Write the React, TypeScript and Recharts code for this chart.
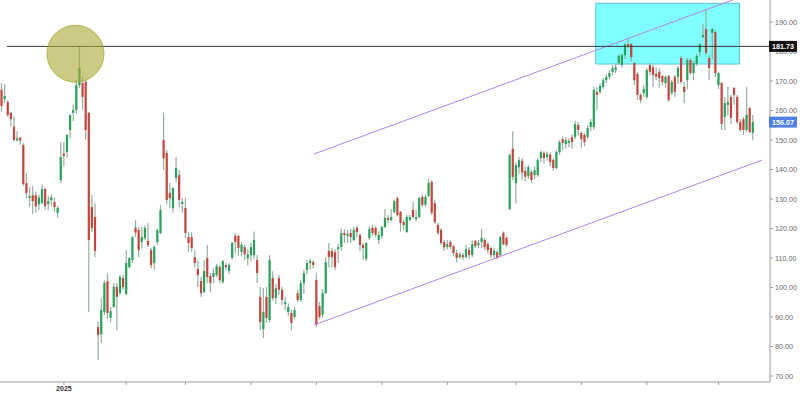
import React from 'react';
import { ComposedChart, Bar, XAxis, YAxis, ReferenceLine, ReferenceArea, ReferenceDot } from 'recharts';

// ---- data (daily OHLC) ----
const opens = [
  167.0, 163.9, 162.8, 159.2, 154.5, 150.0, 150.8, 148.3, 135.4, 130.3,
  131.3, 131.3, 128.2, 128.6, 133.4, 128.3, 129.6, 129.0, 125.3, 136.4,
  145.4, 145.9, 153.4, 159.2, 160.2, 168.6, 169.3, 169.7, 159.2, 127.3,
  123.9, 86.6, 84.2, 91.7, 102.2, 89.7, 93.4, 100.2, 98.1, 103.2,
  97.8, 106.9, 109.3, 120.3, 119.5, 115.4, 116.8, 115.8, 112.7, 108.3,
  115.4, 118.5, 150.0, 145.6, 132.0, 126.9, 137.1, 138.1, 128.3, 127.0,
  117.1, 117.1, 110.3, 106.3, 102.2, 98.5, 110.0, 103.9, 103.6, 104.2,
  106.9, 101.9, 107.6, 105.6, 110.0, 117.5, 117.5, 112.0, 113.7, 109.9,
  111.0, 111.0, 109.3, 96.8, 85.9, 96.8, 89.0, 103.2, 96.4, 103.2,
  99.2, 94.4, 91.7, 91.4, 90.0, 98.1, 95.8, 101.5, 105.9, 108.3,
  108.6, 102.5, 93.7, 90.7, 98.1, 112.4, 112.4, 112.0, 113.0, 113.7,
  118.5, 117.5, 118.5, 116.1, 120.2, 117.8, 114.4, 109.7, 116.8, 120.2,
  120.2, 116.1, 117.5, 120.5, 123.6, 122.9, 125.6, 130.3, 125.6, 122.2,
  118.8, 122.9, 126.3, 123.2, 123.9, 130.7, 128.0, 131.0, 135.8, 128.6,
  121.2, 119.5, 115.4, 113.7, 115.4, 114.0, 111.7, 110.3, 111.0, 110.3,
  112.7, 111.0, 115.8, 114.4, 115.4, 116.1, 114.7, 113.4, 111.0, 112.0,
  111.0, 118.5, 116.8, 126.6, 147.0, 135.4, 140.8, 142.9, 139.5, 137.8,
  139.2, 138.1, 138.1, 143.9, 145.6, 144.2, 145.0, 143.2, 140.5, 145.9,
  150.3, 148.6, 149.0, 151.0, 151.0, 155.1, 152.4, 151.7, 151.0, 154.4,
  154.4, 166.3, 166.3, 168.0, 170.3, 171.4, 173.1, 173.7, 176.1, 175.4,
  178.8, 182.5, 182.5, 176.1, 172.4, 165.3, 165.9, 164.6, 175.4, 174.7,
  172.4, 173.1, 171.7, 169.3, 171.7, 165.9, 171.4, 171.4, 177.8, 168.0,
  170.3, 177.1, 172.7, 175.8, 179.8, 184.9, 187.6, 177.8, 186.3, 186.6,
  168.6, 169.3, 157.8, 161.9, 164.6, 167.6, 164.6, 156.1, 157.1, 153.4,
  160.8, 152.4,
];
const highs = [
  169.3, 169.0, 163.5, 159.5, 158.0, 153.0, 151.0, 149.0, 138.8, 134.0,
  134.5, 132.5, 131.5, 134.9, 133.6, 131.0, 131.5, 130.5, 127.6, 149.3,
  149.3, 152.0, 158.6, 162.0, 170.3, 181.73, 171.5, 170.3, 159.5, 131.4,
  128.6, 88.3, 96.4, 102.5, 104.9, 93.4, 101.5, 101.5, 104.2, 104.2,
  112.7, 110.3, 117.5, 122.9, 120.5, 120.7, 121.0, 121.9, 113.4, 114.4,
  120.0, 128.0, 159.2, 146.6, 135.4, 134.0, 144.2, 139.8, 130.3, 130.3,
  118.8, 118.8, 112.7, 109.3, 103.6, 109.3, 114.4, 104.9, 106.5, 108.0,
  107.6, 109.3, 108.3, 108.3, 115.4, 118.5, 118.0, 115.5, 114.5, 113.0,
  115.1, 119.0, 111.0, 100.2, 99.8, 100.2, 111.0, 105.5, 101.1, 104.2,
  100.2, 96.8, 94.7, 92.4, 93.4, 99.2, 102.5, 106.0, 109.3, 109.8,
  109.3, 104.9, 95.1, 99.5, 110.3, 115.1, 113.4, 113.0, 114.8, 120.0,
  119.8, 119.5, 119.8, 120.5, 121.0, 118.5, 115.1, 115.4, 120.8, 121.3,
  120.8, 119.0, 121.0, 126.6, 124.7, 126.6, 129.8, 130.8, 126.0, 122.9,
  124.6, 124.6, 129.0, 126.2, 130.8, 131.6, 131.6, 136.8, 136.4, 129.8,
  121.9, 120.2, 116.1, 116.1, 116.1, 114.4, 112.7, 112.0, 111.7, 114.4,
  113.7, 116.1, 116.1, 116.1, 119.8, 116.8, 115.4, 113.7, 113.4, 112.7,
  117.5, 119.0, 117.5, 145.5, 153.0, 142.5, 144.2, 143.9, 141.0, 141.5,
  140.0, 141.0, 144.0, 146.5, 146.3, 146.0, 145.6, 143.9, 146.5, 150.0,
  151.3, 151.0, 150.6, 152.0, 156.5, 156.1, 153.0, 152.4, 155.0, 157.1,
  168.0, 168.0, 169.3, 171.0, 172.4, 173.7, 175.4, 176.0, 179.2, 179.5,
  183.0, 184.6, 183.0, 176.5, 173.1, 165.9, 168.6, 174.4, 176.1, 175.4,
  174.7, 174.4, 172.0, 172.0, 172.0, 170.3, 172.0, 175.1, 178.5, 169.7,
  177.8, 177.8, 176.8, 179.2, 182.9, 189.3, 194.4, 178.8, 188.0, 187.3,
  173.1, 169.7, 164.5, 168.0, 165.3, 168.0, 165.3, 157.1, 157.8, 168.0,
  161.2, 158.5,
];
const lows = [
  159.6, 162.5, 157.8, 154.5, 149.5, 149.3, 148.5, 134.5, 130.3, 127.3,
  125.0, 125.4, 126.3, 128.3, 126.3, 126.2, 127.5, 125.5, 123.7, 135.4,
  141.0, 144.0, 150.5, 156.4, 158.8, 167.5, 160.2, 150.0, 91.7, 118.8,
  110.3, 75.4, 81.2, 90.7, 89.2, 88.3, 93.1, 85.6, 97.5, 99.2,
  97.5, 106.5, 108.3, 117.1, 110.3, 113.2, 116.0, 113.7, 106.5, 105.9,
  114.4, 118.0, 139.8, 128.3, 127.0, 125.3, 135.8, 127.3, 125.3, 116.8,
  112.0, 112.0, 106.9, 100.2, 96.8, 98.1, 101.5, 98.5, 101.5, 103.5,
  101.5, 101.2, 105.9, 104.5, 109.5, 111.5, 110.8, 110.5, 109.3, 107.5,
  108.9, 109.6, 101.5, 85.6, 82.9, 88.0, 88.3, 95.5, 94.4, 97.4,
  94.1, 92.4, 90.4, 85.6, 89.4, 95.1, 95.1, 97.8, 104.5, 106.0,
  106.5, 86.6, 89.2, 89.7, 97.8, 106.9, 106.9, 105.9, 108.3, 112.5,
  115.1, 115.1, 115.1, 115.8, 117.1, 112.4, 109.3, 109.0, 116.1, 117.5,
  117.1, 114.7, 116.5, 120.2, 121.9, 122.5, 125.2, 124.0, 119.0, 119.5,
  118.5, 122.5, 123.2, 122.5, 123.5, 127.3, 127.3, 130.7, 124.6, 121.5,
  117.8, 114.5, 112.4, 112.9, 113.0, 110.5, 108.6, 109.6, 109.3, 109.9,
  109.6, 110.3, 113.4, 113.4, 113.4, 112.7, 111.5, 109.9, 109.9, 109.6,
  110.3, 114.4, 113.7, 126.2, 136.4, 128.6, 138.5, 136.4, 136.0, 136.8,
  135.5, 136.8, 137.5, 142.5, 142.0, 143.0, 141.0, 139.5, 140.0, 145.0,
  146.5, 147.0, 147.5, 147.0, 150.3, 151.5, 147.5, 147.9, 150.3, 153.0,
  153.4, 160.2, 165.5, 167.3, 169.3, 170.5, 172.0, 172.7, 175.4, 174.5,
  177.5, 181.2, 176.5, 168.6, 163.6, 162.5, 164.6, 163.9, 172.0, 168.0,
  170.3, 167.7, 168.6, 167.9, 162.9, 165.3, 164.6, 169.0, 169.0, 162.5,
  167.3, 172.0, 170.3, 175.1, 178.1, 184.6, 178.8, 170.3, 177.5, 171.4,
  167.3, 153.4, 153.4, 158.3, 155.4, 162.0, 155.4, 152.7, 151.7, 152.7,
  152.4, 150.0,
];
const closes = [
  161.5, 164.9, 158.5, 157.1, 150.0, 150.6, 149.8, 135.1, 132.0, 131.0,
  129.3, 127.5, 130.5, 133.4, 127.6, 129.3, 130.6, 127.3, 127.0, 144.2,
  144.6, 151.7, 158.5, 160.2, 168.6, 174.4, 164.6, 153.4, 116.1, 120.2,
  112.4, 83.9, 92.4, 101.5, 91.4, 92.0, 100.2, 96.8, 103.6, 100.2,
  108.3, 110.0, 117.1, 118.6, 112.7, 117.1, 120.2, 114.4, 107.6, 113.7,
  119.5, 126.3, 143.8, 129.7, 130.3, 133.7, 140.5, 129.7, 129.0, 118.5,
  115.1, 113.4, 108.3, 104.2, 98.1, 105.6, 103.6, 101.5, 104.9, 107.3,
  102.5, 108.9, 106.9, 107.6, 115.1, 115.4, 113.4, 114.5, 111.2, 111.2,
  113.7, 116.1, 104.9, 88.3, 91.7, 89.7, 109.3, 96.4, 99.8, 99.2,
  95.8, 95.1, 93.4, 88.0, 92.4, 95.8, 101.5, 104.9, 108.3, 109.0,
  107.6, 87.3, 90.0, 98.1, 108.6, 110.3, 110.3, 106.9, 113.7, 118.5,
  117.8, 118.2, 117.1, 119.5, 118.8, 114.4, 113.4, 115.1, 119.8, 118.5,
  117.8, 117.8, 120.5, 123.6, 122.9, 123.9, 129.3, 124.6, 121.9, 121.2,
  123.9, 123.9, 123.9, 123.9, 130.3, 128.0, 130.7, 135.4, 125.3, 122.2,
  118.5, 115.1, 113.7, 114.7, 113.7, 111.7, 110.0, 111.2, 110.3, 113.0,
  111.0, 114.7, 114.0, 115.1, 116.8, 113.7, 112.7, 111.0, 112.4, 110.0,
  117.1, 114.7, 114.4, 144.9, 137.5, 141.5, 143.2, 139.0, 137.5, 140.8,
  136.4, 139.8, 143.2, 145.9, 143.9, 145.2, 142.5, 140.5, 145.9, 149.3,
  149.0, 150.0, 149.7, 149.3, 155.4, 153.4, 150.3, 149.3, 154.1, 156.1,
  167.0, 165.3, 168.3, 170.3, 171.4, 172.7, 174.4, 174.7, 178.5, 178.8,
  182.5, 181.9, 178.1, 170.3, 165.3, 163.6, 167.3, 173.7, 173.1, 172.0,
  171.4, 171.0, 169.7, 171.4, 163.6, 169.7, 166.3, 174.4, 169.7, 166.3,
  177.1, 172.7, 176.1, 178.5, 182.5, 185.6, 179.5, 174.4, 187.6, 172.7,
  172.7, 155.4, 162.5, 162.9, 157.5, 165.3, 156.1, 153.4, 153.4, 158.5,
  152.7, 156.07,
];

const SLOTS = 247; // trading-day slots on the time axis (last few empty)
const monthTicks = [20, 40, 59, 80, 101, 122, 143, 165, 186, 207, 230];
const monthLabels = ['2025', '', '', '', '', '', '', '', '', '', ''];
const priceTicks = [70, 80, 90, 100, 110, 120, 130, 140, 150, 160, 170, 180, 190];
const markPrice = 181.73;
const lastPrice = 156.07;
const priceDomain = [67.97, 197.46];

// annotations, in (day index, price) terms
const markLineStart = 1.75;
const circleCenter = { x: 23.72, y: 179.25 };
const boxRange = { x1: 190.6, x2: 236.7, y1: 175.76, y2: 196.34 };
const channelLow = [{ x: 100.2, y: 87.3 }, { x: 243.95, y: 143.2 }];
const channelHigh = [{ x: 100.2, y: 145.25 }, { x: 240, y: 199.6 }];

const data = Array.from({ length: SLOTS }, (_, i) =>
  i < opens.length
    ? { i, o: opens[i], h: highs[i], l: lows[i], c: closes[i], range: [lows[i], highs[i]] }
    : { i, o: null, h: null, l: null, c: null, range: null }
);

const UP = '#27a15c';
const DOWN = '#c2463d';
const WICK = '#94ae9d';
const FONT = '"Liberation Sans", Arial, sans-serif';

const Candle = (props: any) => {
  const { x, y, width, height, payload } = props;
  if (!payload || payload.o == null) return null;
  const { o, h, l, c } = payload;
  const top = Math.min(y, y + height);
  const H = Math.abs(height);
  const ratio = h === l ? 0 : H / (h - l);
  const cx = x + width / 2;
  const bTop = top + (h - Math.max(o, c)) * ratio;
  const bBot = top + (h - Math.min(o, c)) * ratio;
  const up = c >= o;
  return (
    <g>
      <line x1={cx} x2={cx} y1={top} y2={top + H} stroke={WICK} strokeWidth={1.2} />
      <rect x={cx - 1.1} y={bTop} width={2.2} height={Math.max(bBot - bTop, 0.8)} fill={up ? UP : DOWN} />
    </g>
  );
};

const YTick = (props: any) => {
  const { x, y, payload } = props;
  const v = payload.value;
  if (v === markPrice || v === lastPrice) {
    const bg = v === markPrice ? '#111111' : '#4f7fe3';
    return (
      <g>
        <rect x={x - 6} y={y - 5.5} width={28} height={11} fill={bg} />
        <text x={x + 8} y={y} dy="0.36em" textAnchor="middle" fill="#ffffff" fontSize={7.2} fontWeight="bold" fontFamily={FONT}>
          {v.toFixed(2)}
        </text>
      </g>
    );
  }
  return (
    <text x={x} y={y} dy="0.36em" textAnchor="start" fill="#666666" fontSize={7.2} fontFamily={FONT}>
      {v.toFixed(2)}
    </text>
  );
};

const XTick = (props: any) => {
  const { x, y, payload } = props;
  const idx = monthTicks.indexOf(payload.value);
  const label = idx >= 0 ? monthLabels[idx] : '';
  if (!label) return null;
  return (
    <text x={x} y={y} dy="0.72em" textAnchor="middle" fill="#333333" fontSize={7} fontWeight="bold" fontFamily={FONT}>
      {label}
    </text>
  );
};

export default function App() {
  return (
    <div style={{ position: 'absolute', left: 0, top: 0, width: 800, height: 394, background: '#ffffff' }}>
      <ComposedChart width={800} height={394} data={data} margin={{ top: 0, right: 0, bottom: 0, left: 0 }}>
        <XAxis
          xAxisId="num"
          dataKey="i"
          type="number"
          domain={[-0.5, SLOTS - 0.5]}
          allowDataOverflow
          ticks={monthTicks}
          interval={0}
          height={12}
          tickSize={3}
          tickMargin={1}
          axisLine={{ stroke: '#9a9a9a' }}
          tickLine={{ stroke: '#9a9a9a' }}
          tick={<XTick />}
        />
        <XAxis xAxisId="cat" dataKey="i" type="category" hide height={0} />
        <YAxis
          orientation="right"
          width={30}
          domain={priceDomain}
          allowDataOverflow
          ticks={[...priceTicks, lastPrice, markPrice]}
          interval={0}
          tickSize={3}
          tickMargin={2}
          axisLine={{ stroke: '#9a9a9a' }}
          tickLine={{ stroke: '#9a9a9a' }}
          tick={<YTick />}
        />
        <ReferenceLine
          xAxisId="num"
          segment={channelHigh}
          stroke="#b583e6"
          strokeWidth={1}
          ifOverflow="hidden"
        />
        <ReferenceLine
          xAxisId="num"
          segment={channelLow}
          stroke="#b583e6"
          strokeWidth={1}
          ifOverflow="hidden"
        />
        <ReferenceArea
          xAxisId="num"
          x1={boxRange.x1}
          x2={boxRange.x2}
          y1={boxRange.y1}
          y2={boxRange.y2}
          fill="#00ffff"
          fillOpacity={0.5}
          stroke="#5cc3dd"
          strokeOpacity={1}
          ifOverflow="visible"
        />
        <ReferenceLine
          xAxisId="num"
          segment={[{ x: markLineStart, y: markPrice }, { x: SLOTS - 0.5, y: markPrice }]}
          stroke="#3a3a3a"
          strokeWidth={1}
        />
        <Bar xAxisId="cat" dataKey="range" shape={Candle} isAnimationActive={false} barSize={3} />
        <ReferenceDot
          xAxisId="num"
          x={circleCenter.x}
          y={circleCenter.y}
          r={28.5}
          fill="#a9a935"
          fillOpacity={0.6}
          stroke="#a9a935"
          strokeOpacity={0.8}
          strokeWidth={1}
        />
      </ComposedChart>
    </div>
  );
}
